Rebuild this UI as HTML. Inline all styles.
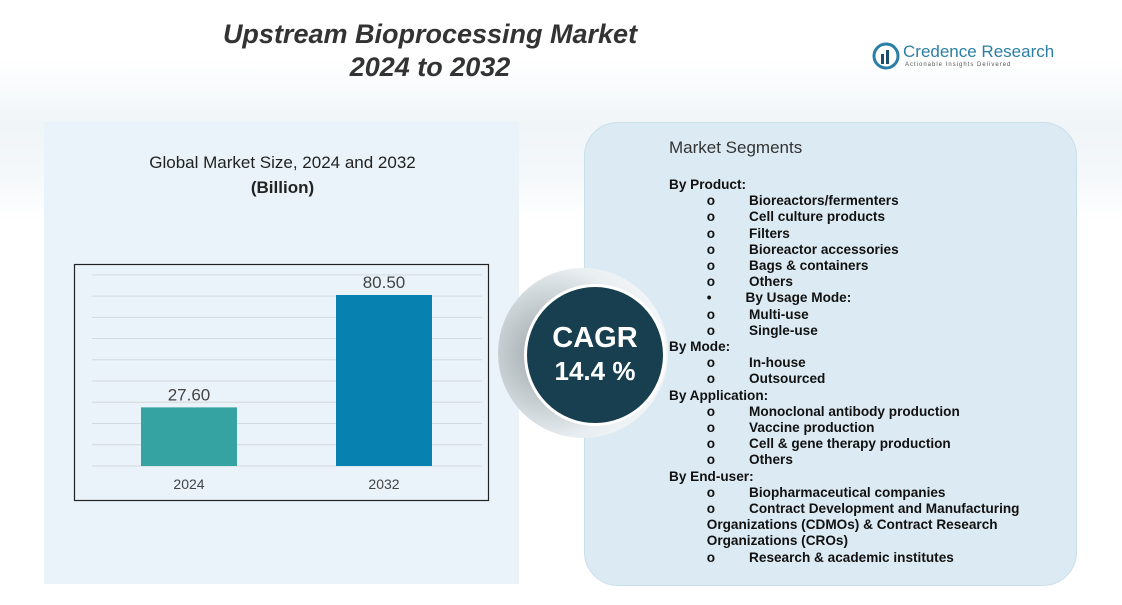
<!DOCTYPE html>
<html><head><meta charset="utf-8"><style>
body{margin:0;width:1122px;height:605px;background:#fff;font-family:"Liberation Sans",sans-serif;position:relative;overflow:hidden}
.abs{position:absolute}
#left{left:44px;top:122px;width:475px;height:462px;background:#e9f3f9}
#right{left:584px;top:122px;width:491px;height:462px;background:#dcebf3;border-radius:34px;border:1px solid #c9dfe9}
.seg{font-size:13.6px;font-weight:bold;color:#111;line-height:16.2px;white-space:pre}
</style></head><body>
<div class="abs" id="bgmap" style="left:0;top:60px;width:1122px;height:160px;background:linear-gradient(#fff,#f0f5f8 40%,#f4f8fa 70%,#fff)"></div>
<div class="abs" style="left:190px;top:18px;width:480px;text-align:center;font-size:27px;font-weight:bold;font-style:italic;color:#333;line-height:33px">Upstream Bioprocessing Market<br>2024 to 2032</div>
<div class="abs" style="left:872px;top:42px;width:180px;height:30px">
<svg width="28" height="28" style="position:absolute;left:0;top:0"><circle cx="14" cy="14" r="12" fill="none" stroke="#2b7fa6" stroke-width="3"/><rect x="9" y="12" width="3" height="10" fill="#1d4e6b"/><rect x="14" y="8" width="3" height="14" fill="#1d4e6b"/></svg>
<div class="abs" style="left:31px;top:0;font-size:17px;color:#2b7fa6;white-space:nowrap">Credence Research</div>
<div class="abs" style="left:33px;top:20px;font-size:6px;color:#555;letter-spacing:1px;white-space:nowrap">Actionable Insights Delivered</div>
</div>
<div class="abs" id="left"></div>
<div class="abs" style="left:100px;top:150px;width:365px;text-align:center;font-size:17px;color:#222;line-height:25px">Global Market Size, 2024 and 2032<br><b>(Billion)</b></div>
<svg class="abs" style="left:0;top:0" width="1122" height="605" id="chart">
<rect x="74.5" y="264.5" width="414" height="236" fill="none" stroke="#222" stroke-width="1.2"/>
</svg>
<div class="abs" id="right"></div>
<div class="abs" style="left:498px;top:268px;width:170px;height:170px;border-radius:50%;background:radial-gradient(circle at 30% 50%,#9aa3a8,#e8eef1 60%,#fff)"></div>
<div class="abs" style="left:524px;top:284px;width:142px;height:142px;border-radius:50%;background:#173f4f;border:3px solid #fff;box-sizing:border-box;color:#fff;text-align:center;font-weight:bold">
<div style="margin-top:34px;font-size:29px;line-height:34px">CAGR</div><div style="font-size:26px;line-height:32px">14.4 %</div></div>
<div class="abs" style="left:669px;top:138px;font-size:17px;color:#333">Market Segments</div>
<div class="abs seg" style="left:669px;top:177px">By Product:
          o         Bioreactors/fermenters
          o         Cell culture products
          o         Filters
          o         Bioreactor accessories
          o         Bags &amp; containers
          o         Others
          •         By Usage Mode:
          o         Multi-use
          o         Single-use
By Mode:
          o         In-house
          o         Outsourced
By Application:
          o         Monoclonal antibody production
          o         Vaccine production
          o         Cell &amp; gene therapy production
          o         Others
By End-user:
          o         Biopharmaceutical companies
          o         Contract Development and Manufacturing
          Organizations (CDMOs) &amp; Contract Research
          Organizations (CROs)
          o         Research &amp; academic institutes</div>
<script>
const categories=["2024","2032"];
const values=[27.6,80.5];
const labels=["27.60","80.50"];
const svg=document.getElementById('chart');
const NS="http://www.w3.org/2000/svg";
const base=466, scale=2.124;
function y(v){return base-v*scale;}
const xs=[141,336], bw=96;
for(let g=0;g<=9;g++){
 const l=document.createElementNS(NS,'line');
 l.setAttribute('x1',92);l.setAttribute('x2',482);
 l.setAttribute('y1',y(g*10));l.setAttribute('y2',y(g*10));
 l.setAttribute('stroke','#d3dade');l.setAttribute('stroke-width','1');
 
 
 svg.appendChild(l);
}
const colors=["#36a3a3","#0781b0"];
categories.forEach((c,i)=>{
 const r=document.createElementNS(NS,'rect');
 r.setAttribute('x',xs[i]);r.setAttribute('width',bw);
 r.setAttribute('y',y(values[i]));r.setAttribute('height',values[i]*scale);
 r.setAttribute('fill',colors[i]);
 
 
 svg.appendChild(r);
 const t=document.createElementNS(NS,'text');
 t.setAttribute('x',xs[i]+bw/2);t.setAttribute('y',y(values[i])-7);
 t.setAttribute('text-anchor','middle');t.setAttribute('font-size','17');t.setAttribute('fill','#444');
 t.setAttribute('font-family','Liberation Sans, sans-serif');
 t.textContent=labels[i];
 
 
 svg.appendChild(t);
 const a=document.createElementNS(NS,'text');
 a.setAttribute('x',xs[i]+bw/2);a.setAttribute('y',489);
 a.setAttribute('text-anchor','middle');a.setAttribute('font-size','14');a.setAttribute('fill','#444');
 a.setAttribute('font-family','Liberation Sans, sans-serif');
 a.textContent=c;
 
 
 svg.appendChild(a);
});
</script>
</body></html>
